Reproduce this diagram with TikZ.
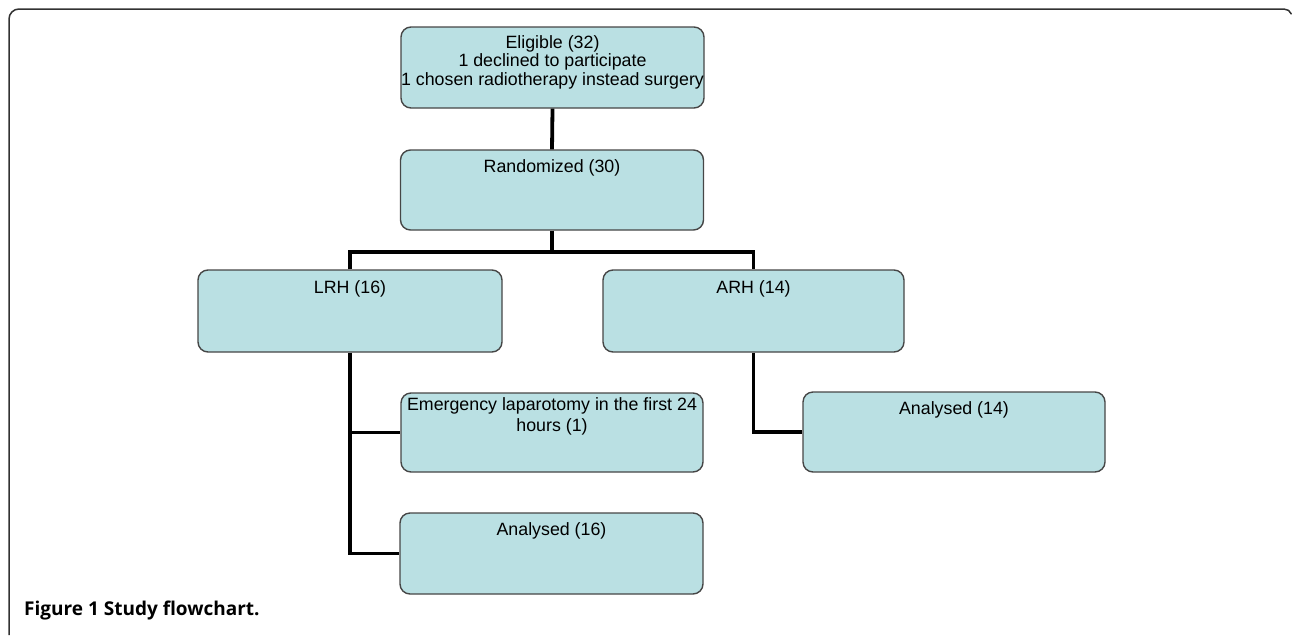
\documentclass[tikz,border=0pt]{standalone}
\usepackage{fontspec}
\setmainfont{Liberation Sans}
\newfontfamily\capfont{Open Sans}
\definecolor{boxfill}{RGB}{186,224,227}
\definecolor{boxline}{RGB}{70,70,70}
\definecolor{frameline}{RGB}{50,50,50}
\begin{document}
\begin{tikzpicture}[x=1pt,y=-1pt,
  flowbox/.style={draw=boxline, line width=1.4pt, fill=boxfill, rounded corners=10pt,
    minimum width=303pt, inner sep=0pt},
  boxtext/.style={font=\fontsize{17.8}{18.5}\selectfont, align=center, anchor=north, inner sep=0pt},
  conn/.style={draw=black, line width=3.8pt}]
\useasboundingbox (0,0) rectangle (1292,635);
% frame
\draw[frameline, line width=1.5pt] (9,635) -- (9,19) arc[start angle=180, end angle=90, radius=10pt] -- (1284,9) arc[start angle=90, end angle=20, radius=8pt];
% connectors
\coordinate (split) at (552,252);
% boxes
\node[flowbox, minimum height=81pt] (elig) at (552.5,67.5) {};
\node[flowbox, minimum height=80pt] (rand) at (552,190) {};
\node[flowbox, minimum width=304pt, minimum height=82pt] (lrh) at (350,311) {};
\node[flowbox, minimum width=301pt, minimum height=82pt] (arh) at (753.5,311) {};
\node[flowbox, minimum width=302pt, minimum height=79pt] (emerg) at (552,432.5) {};
\node[flowbox, minimum height=81pt] (an16) at (551.5,553.5) {};
\node[flowbox, minimum width=302pt, minimum height=80pt] (an14) at (954,432) {};
\draw[conn] (elig.south) -- (rand.north);
\draw[conn] (rand.south) -- (split);
\draw[conn] (lrh.north) |- (split) -| (arh.north);
\draw[conn] (lrh.south) |- (an16.west);
\draw[conn] (lrh.south |- emerg.west) -- (emerg.west);
\draw[conn] (arh.south) |- (an14.west);
% texts
\node[boxtext] (eligt) at ([yshift=-9pt]elig.north) {Eligible (32)\\1 declined to participate\\1 chosen radiotherapy instead surgery};
\node[boxtext] (randt) at ([yshift=-10pt]rand.north) {Randomized (30)};
\node[boxtext] (lrht) at ([yshift=-11pt]lrh.north) {LRH (16)};
\node[boxtext] (arht) at ([yshift=-11pt]arh.north) {ARH (14)};
\node[boxtext] (emergt) at ([yshift=-5pt]emerg.north) {Emergency laparotomy in the first 24\\[3pt]hours (1)};
\node[boxtext] (an16t) at ([yshift=-10pt]an16.north) {Analysed (16)};
\node[boxtext] (an14t) at ([yshift=-10pt]an14.north) {Analysed (14)};
% caption
\node[anchor=west, inner sep=0pt, font=\capfont\bfseries\fontsize{19}{22}\selectfont] (cap) at (24,611) {Figure 1 Study flowchart.};
\end{tikzpicture}
\end{document}
